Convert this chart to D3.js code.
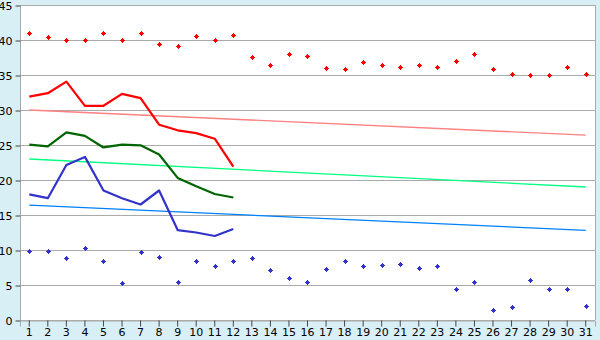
<!DOCTYPE html>
<html><head><meta charset="utf-8">
<script src="https://cdn.jsdelivr.net/npm/d3@7"></script>
<style>
html,body{margin:0;padding:0;background:#d9eff6;}
svg{display:block;}
text{font-family:"DejaVu Sans",Verdana,sans-serif;font-size:11px;fill:#000;}
</style></head><body>
<svg id="c" width="600" height="340"></svg>
<script>
const days = d3.range(1, 32);
const maxPoints = [41,40.4,40,40,41,40,41,39.5,39.2,40.6,40,40.7,37.5,36.4,37.95,37.7,35.95,35.8,36.8,36.4,36.1,36.4,36.1,36.95,37.95,35.8,35.2,34.95,35,36.1,35.1];
const minPoints = [9.8,9.8,8.8,10.25,8.4,5.25,9.7,8.95,5.4,8.4,7.7,8.5,8.8,7.1,5.95,5.4,7.25,8.4,7.7,7.8,7.95,7.5,7.7,4.4,5.4,1.5,1.8,5.7,4.5,4.4,1.95];
const redLine = [31.9,32.4,34.05,30.6,30.6,32.3,31.7,27.9,27.1,26.7,25.9,21.9];
const greenLine = [25.05,24.8,26.8,26.3,24.65,25.05,24.95,23.65,20.3,19.1,18.0,17.5];
const blueLine = [17.95,17.4,22.15,23.3,18.5,17.4,16.5,18.5,12.85,12.5,12.0,13.0];
const trendPink = [30.0, 26.4];
const trendGreen = [23.0, 19.0];
const trendBlue = [16.4, 12.8];
const yTicks = [0,5,10,15,20,25,30,35,40,45];

const svg = d3.select("#c");
const L = 20, R = 595, T = 5, B = 320;
const x = d3.scaleBand().domain(days).range([L, R]);
const xc = d => x(d) + x.bandwidth()/2;
const y = d3.scaleLinear().domain([0,45]).range([B, T]);

svg.append("rect").attr("x",L).attr("y",T).attr("width",R-L).attr("height",B-T).attr("fill","#fff");

// gridlines
svg.append("g").selectAll("line").data(yTicks).join("line")
  .attr("x1",L).attr("x2",R).attr("y1",d=>Math.round(y(d))+0.5).attr("y2",d=>Math.round(y(d))+0.5)
  .attr("stroke","#aaa").attr("stroke-width",1);
svg.append("line").attr("x1",R+0.5).attr("x2",R+0.5).attr("y1",T).attr("y2",B).attr("stroke","#aaa");
svg.append("line").attr("x1",L+0.5).attr("x2",L+0.5).attr("y1",T).attr("y2",B+1).attr("stroke","#aaa");

// axes
const yAxis = svg.append("g").attr("transform",`translate(${L+0.5},0.5)`)
  .call(d3.axisLeft(y).tickValues(yTicks).tickSize(5).tickPadding(3));
yAxis.select(".domain").remove();
yAxis.selectAll(".tick line").attr("stroke","#444");
yAxis.selectAll("text").attr("font-size","11px").attr("font-family","DejaVu Sans");

const xAxis = svg.append("g").attr("transform",`translate(0,${B+0.5})`)
  .call(d3.axisBottom(x).tickSize(6).tickPadding(2));
xAxis.select(".domain").attr("stroke","#aaa");
xAxis.selectAll(".tick line").attr("stroke","#444");
xAxis.selectAll("text").attr("font-size","11px").attr("font-family","DejaVu Sans");

// trend lines
function trend(vals, color){
  svg.append("line").attr("x1",xc(1)).attr("x2",xc(31))
    .attr("y1",y(vals[0])).attr("y2",y(vals[1]))
    .attr("stroke",color).attr("stroke-width",1.3);
}
trend(trendPink,"#ff8080");
trend(trendGreen,"#00ff80");
trend(trendBlue,"#0080ff");

// main lines
const line = d3.line().x((d,i)=>xc(days[i])).y(d=>y(d));
function drawLine(vals, color){
  svg.append("path").attr("d",line(vals)).attr("fill","none")
    .attr("stroke",color).attr("stroke-width",2.2).attr("stroke-linejoin","round");
}
drawLine(redLine,"#ff0000");
drawLine(greenLine,"#006400");
drawLine(blueLine,"#3333cc");

// markers
const mk = "M-0.5,-2.5h1v1h1v1h1v1h-1v1h-1v1h-1v-1h-1v-1h-1v-1h1v-1h1z";
function markers(vals, color){
  svg.append("g").selectAll("path").data(vals).join("path")
    .attr("d",mk).attr("fill",color)
    .attr("transform",(d,i)=>`translate(${Math.round(xc(days[i]))+0.5},${Math.round(y(d))+0.5})`);
}
markers(maxPoints,"#ff0000");
markers(minPoints,"#3333cc");
</script>
</body></html>
